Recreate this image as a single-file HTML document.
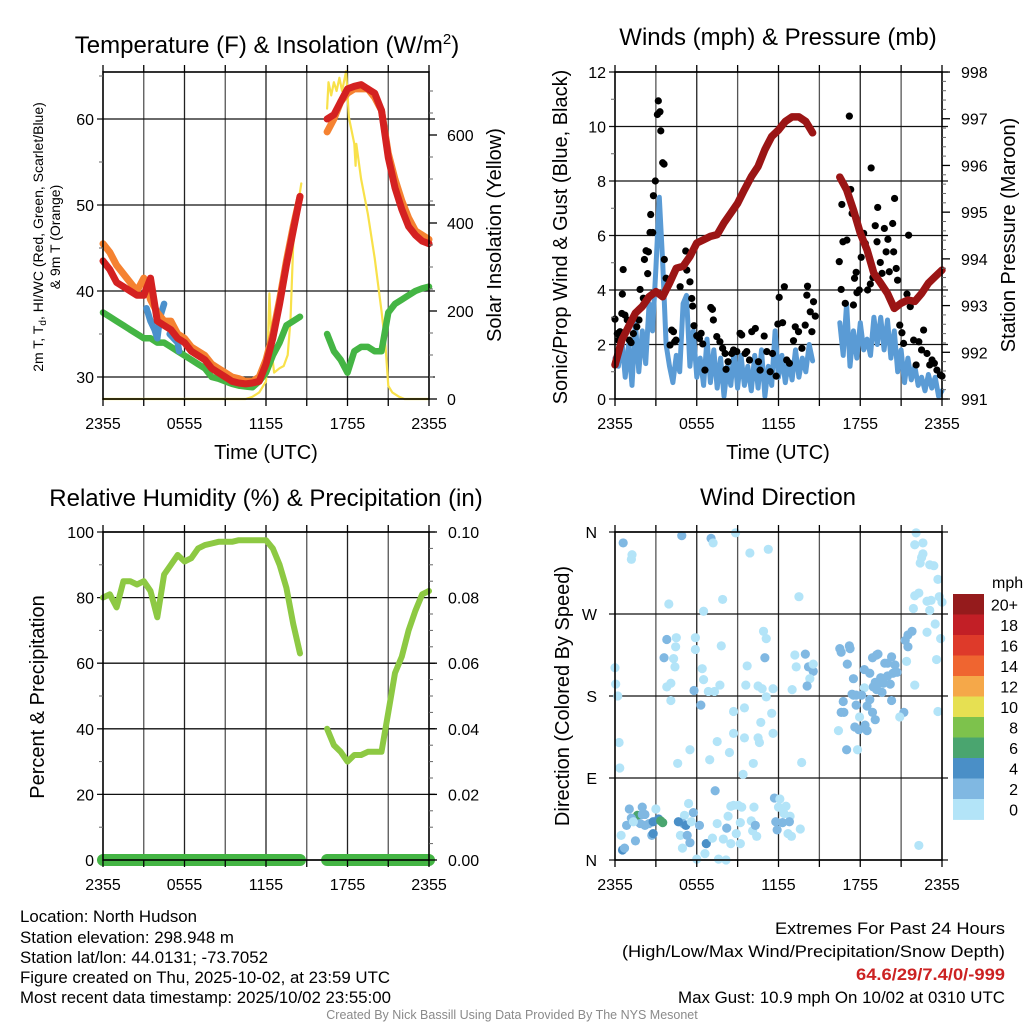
<!DOCTYPE html>
<html><head><meta charset="utf-8"><title>NYS Mesonet North Hudson</title>
<style>
html,body{margin:0;padding:0;background:#fff;}
svg{display:block;font-family:"Liberation Sans",sans-serif;}
.tk{font-size:16px;fill:#000;}
.ttl{font-size:24px;fill:#000;}
.axt{font-size:20px;fill:#000;}
.info{font-size:16.5px;fill:#000;}
</style></head>
<body>
<svg id="chart" width="1024" height="1024" viewBox="0 0 1024 1024" xmlns="http://www.w3.org/2000/svg">
<rect x="0" y="0" width="1024" height="1024" fill="#fff"/>
<g id="layer-grid"></g>
<g id="layer-data"></g>
<g id="layer-frame"></g>
<g id="layer-text"></g>

<text class="ttl" x="267" y="53" text-anchor="middle">Temperature (F) &amp; Insolation (W/m<tspan dy="-9" font-size="15">2</tspan><tspan dy="9">)</tspan></text>
<text class="ttl" x="778" y="45" text-anchor="middle">Winds (mph) &amp; Pressure (mb)</text>
<text class="ttl" x="266" y="506" text-anchor="middle">Relative Humidity (%) &amp; Precipitation (in)</text>
<text class="ttl" x="778" y="505" text-anchor="middle">Wind Direction</text>

<text class="axt" x="266" y="459" text-anchor="middle">Time (UTC)</text>
<text class="axt" x="778" y="459" text-anchor="middle">Time (UTC)</text>

<text font-size="14" transform="translate(43,237) rotate(-90)" text-anchor="middle">2m T, T<tspan font-size="10" dy="3">d</tspan><tspan dy="-3">, HI/WC (Red, Green, Scarlet/Blue)</tspan></text>
<text font-size="14" transform="translate(60,237) rotate(-90)" text-anchor="middle">&amp; 9m T (Orange)</text>
<text class="axt" font-size="21" transform="translate(501,235) rotate(-90)" text-anchor="middle">Solar Insolation (Yellow)</text>
<text class="axt" transform="translate(567,237) rotate(-90)" text-anchor="middle">Sonic/Prop Wind &amp; Gust (Blue, Black)</text>
<text class="axt" font-size="21" transform="translate(1015,235) rotate(-90)" text-anchor="middle">Station Pressure (Maroon)</text>
<text class="axt" font-size="24" transform="translate(44,697) rotate(-90)" text-anchor="middle">Percent &amp; Precipitation</text>
<text class="axt" font-size="18" transform="translate(569,696) rotate(-90)" text-anchor="middle">Direction (Colored By Speed)</text>

<text class="tk" x="992" y="588">mph</text>

<g>
<text class="info" x="20" y="922" textLength="177" lengthAdjust="spacingAndGlyphs">Location: North Hudson</text>
<text class="info" x="20" y="943" textLength="214" lengthAdjust="spacingAndGlyphs">Station elevation: 298.948 m</text>
<text class="info" x="20" y="963" textLength="248" lengthAdjust="spacingAndGlyphs">Station lat/lon: 44.0131; -73.7052</text>
<text class="info" x="20" y="983" textLength="370" lengthAdjust="spacingAndGlyphs">Figure created on Thu, 2025-10-02, at 23:59 UTC</text>
<text class="info" x="20" y="1003" textLength="371" lengthAdjust="spacingAndGlyphs">Most recent data timestamp: 2025/10/02 23:55:00</text>
</g>
<g>
<text class="info" x="775" y="934" textLength="230" lengthAdjust="spacingAndGlyphs">Extremes For Past 24 Hours</text>
<text class="info" x="622" y="957" textLength="383" lengthAdjust="spacingAndGlyphs">(High/Low/Max Wind/Precipitation/Snow Depth)</text>
<text class="info" x="856" y="980" textLength="149" lengthAdjust="spacingAndGlyphs" font-weight="bold" fill="#cc2222" style="fill:#cc2222">64.6/29/7.4/0/-999</text>
<text class="info" x="678" y="1003" textLength="327" lengthAdjust="spacingAndGlyphs">Max Gust: 10.9 mph On 10/02 at 0310 UTC</text>
</g>
<text x="512" y="1019" font-size="12.5" fill="#8a8a8a" text-anchor="middle">Created By Nick Bassill Using Data Provided By The NYS Mesonet</text>
</svg>

<script>
// ---------- data ----------
const timeTickLabels = ["2355","0555","1155","1755","2355"];
const timeTickHours = [0,6,12,18,24];
const tempTicks = [30,40,50,60];
const solarTicks = [0,200,400,600];
const windTicks = [0,2,4,6,8,10,12];
const pressureTicks = [991,992,993,994,995,996,997,998];
const rhTicks = [0,20,40,60,80,100];
const precipTickLabels = ["0.00","0.02","0.04","0.06","0.08","0.10"];
const dirTickLabels = ["N","E","S","W","N"];
const dirTickValues = [0,90,180,270,360];
const speedBinLabels = ["0","2","4","6","8","10","12","14","16","18","20+"];
const speedBinColors = ["#b3e4f8","#80b8e2","#4a8fc7","#4aa56f","#7dc24c","#e6e052","#f5a849","#ef6530","#de3a2a","#c21f26","#951b1c"];

// half-hourly series (0..24 h), null = missing
const tempRed = [43.5,42.5,41,40.5,40,39.5,39.5,41.5,36.5,36,35.5,34.5,34,33,32.5,32,31,30.5,30,29.5,29.3,29.2,29.3,29.5,31.5,34.5,38.5,43,47,51,null,null,null,60,60.5,62,63.5,63.8,64,63.5,63,61,55.5,52,49.5,47.5,46.5,45.8,45.5];
const temp9mOrange = [45.5,44.5,43,42,41,40,41.5,39,37.5,36.5,36.5,35,34.5,33.5,33,32.5,31.5,31,30.5,30,29.8,29.5,29.5,30,32,35,39,43.5,47.5,51,null,null,null,58.5,60,62,63,63.5,63.5,63.5,62.5,61,56,53,50.5,48.5,47,46.5,46];
const dewpointGreen = [37.5,37,36.5,36,35.5,35,34.5,34.5,34,34,33.5,33,32.5,32,31.5,31,30,29.8,29.5,29.2,29,28.9,28.8,29.5,30.5,32.5,34,36,36.5,37,null,null,null,35,33,32,30.5,33,33.5,33.5,33,33,37.5,38.5,39,39.5,40,40.3,40.5];
const hiwcHours = [3.2,3.5,3.8,4.0,4.2,4.5,null,4.9,5.2,5.5,5.6];
const hiwcValues = [38,36.5,35.5,34.5,37,38.5,null,35,34.5,34,33];
const solarHours = [0,10.5,11,11.5,12,12.15,12.25,12.45,12.6,13,13.3,13.6,13.8,14.0,14.3,14.6,null,16.5,16.6,16.8,17.0,17.2,17.4,17.6,17.9,18.1,18.5,18.6,18.65,19,19.5,20,20.5,20.8,21,21.3,21.8,22.2,24];
const solarValues = [0,0,5,15,40,130,240,100,60,70,75,100,180,350,430,490,null,660,720,690,720,700,730,700,745,640,580,530,580,500,420,320,200,120,30,15,5,0,0];
const pressure = [991.73,992.26,992.55,992.84,992.98,993.19,993.3,993.19,993.48,993.8,993.84,994.05,994.34,994.41,994.48,994.52,994.77,994.98,995.19,995.48,995.76,995.98,996.34,996.62,996.76,996.94,997.04,997.04,996.94,996.7,null,null,null,995.75,995.48,995.05,994.55,994.19,993.69,993.48,993.26,992.94,993.05,993.12,993.09,993.26,993.48,993.62,993.76];
const relHumidity = [80,81,77,85,85,84,85,82,74,87,90,93,91,92,95,96,96.5,97,97,97,97.5,97.5,97.5,97.5,97.5,95,90,83,72,63,null,null,null,40,35,33,30,32,32,33,33,33,45,57,62,70,76,81,82];
const precip = [0,0,0,0,0,0,0,0,0,0,0,0,0,0,0,0,0,0,0,0,0,0,0,0,0,0,0,0,0,0,null,null,null,0,0,0,0,0,0,0,0,0,0,0,0,0,0,0,0];
// quarter-hourly sonic wind
const windSpeed = [1.5,1.2,2.2,0.8,2,0.5,2.8,1,2.5,1.3,3.5,2.5,4.8,7.4,5,2,1.2,0.6,1.6,1,3.5,3.8,1.2,2.5,0.8,1.5,0.5,2.2,0.6,1.8,0.4,1.5,0.1,1.2,0.5,1.8,0.4,1.6,0.5,1.2,0.3,1.6,0.4,1.8,0.1,1.2,0.5,2.5,0.8,1.6,0.6,1.4,0.7,1.8,0.8,1.5,1,2.0,1.4,null,null,null,null,null,null,null,2.8,1.6,3.5,1.2,2.5,1.5,2.8,1.8,2.2,1.6,3.0,2.0,3.0,1.8,2.9,1.5,2.5,1.0,1.8,0.6,1.5,0.7,1.2,0.5,0.8,0.3,0.9,0.4,0.8,0.1,0.3];
const gustHours = [0,.17,.25,.37,.54,.6,.5,.73,.9,1.05,1.18,1.35,1.6,1.76,1.84,2.08,2.16,2.28,2.45,2.4,2.57,2.77,2.62,2.82,2.96,3.11,3.18,3.3,3.36,3.5,3.6,3.62,3.75,4.16,4.29,4.38,4.48,4.04,4.78,5.19,5.27,5.5,5.63,5.7,5.8,6.0,6.2,6.32,6.44,6.6,7.03,7.15,7.22,7.47,7.7,7.9,8.08,8.15,8.3,8.57,8.7,8.94,9.18,9.3,9.55,9.67,9.87,10.04,10.3,10.53,10.65,10.95,11.14,11.39,11.56,11.83,11.95,12.05,12.3,12.43,12.6,12.8,13.1,13.23,13.47,13.72,13.96,14.08,14.13,14.33,14.45,14.57,14.7,16.46,16.65,16.6,16.73,16.9,17.02,17.2,17.3,17.4,17.5,17.58,17.7,17.76,17.93,18.07,18.25,18.37,18.54,18.74,18.8,18.93,19.1,19.28,19.23,19.47,19.6,19.77,19.9,20.03,20.13,20.38,20.45,20.52,20.64,20.74,20.9,21.06,21.18,21.43,21.55,21.67,21.92,22.1,22.3,22.5,22.65,22.9,23.1,23.27,23.44,23.63,23.88,24];
const gustValues = [2.93,2.4,2.16,2.47,3.85,4.75,3.14,3.08,2.9,2.16,2.07,2.4,2.65,2.9,4.02,3.7,5.12,5.44,5.4,4.6,6.11,6.11,6.77,7.46,8.0,10.44,10.94,10.54,9.84,8.67,8.62,5.12,4.43,2.53,2.47,2.1,2.16,1.98,4.12,5.43,4.73,4.3,3.69,3.41,2.69,2.32,2.22,2.41,2.02,1.06,3.36,3.29,2.9,2.29,2.1,1.86,1.67,1.09,1.37,1.67,1.8,1.74,2.41,2.35,1.67,1.74,1.43,2.47,2.59,1.37,1.06,2.31,1.74,1.0,1.67,0.84,2.75,3.73,2.8,4.12,1.43,1.31,2.14,2.65,2.47,1.86,2.71,3.81,4.14,3.2,2.47,3.57,3.04,5.04,7.14,4.02,5.77,3.51,5.83,10.38,7.69,6.81,3.45,4.43,4.65,3.9,4.0,5.2,6.08,5.71,4.0,4.22,8.48,4.46,6.36,7.03,5.77,5.01,4.61,6.26,5.4,5.86,4.67,6.44,5.4,7.36,4.79,4.36,2.71,2.43,2.04,3.85,6.01,3.39,2.16,1.25,2.1,1.8,2.53,1.67,1.25,1.43,1.31,1.06,0.88,0.84];
const dirHours = [0.6,1.25,1.2,4.9,7.05,7.2,8.85,9.9,11.25,3.95,7.9,6.5,13.5,22.1,22.0,22.6,22.6,22.5,22.4,23.1,23.4,23.7,22.0,22.3,21.9,22.9,23.2,23.1,23.8,24.0,23.5,22.9,23.9,21.8,21.5,21.5,21.4,23.6,22.0,21.2,20.9,23.7,22.3,3.8,4.5,4.45,3.6,4.3,4.4,4.1,3.8,4.1,5.9,5.9,6.4,6.5,5.8,6.3,6.85,7.3,7.7,7.8,9.7,9.6,10.9,11.1,11.0,10.5,10.8,11.1,11.6,11.5,10.7,9.5,8.7,8.7,9.5,10.5,10.6,7.5,8.4,6.95,5.5,4.6,10.15,9.4,13.7,11.6,13.0,13.2,13.97,13.3,14.2,14.4,14.55,14.3,14.1,14.55,0,0.05,0.2,0.3,0.35,16.5,16.6,17.2,17.25,17.05,17.5,18.3,18.7,18.9,19.2,19.3,19.8,20.0,20.3,20.55,20.7,20.4,20.0,19.5,19.7,19.45,19.1,18.95,19.2,19.6,20.2,18.3,18.1,17.5,17.4,17.7,18.7,18.5,16.75,16.8,16.6,17.7,17.95,18.9,19.1,18.35,18.5,17.6,17.9,16.4,17.0,17.8,20.3,21.3,1.05,2.0,3.0,1.65,2.0,2.2,1.85,2.2,2.5,2.8,3.2,3.35,3.5,0.85,1.2,1.35,0.45,1.5,2.7,2.8,0.55,0.7,5.4,5.1,5.75,5.0,5.2,4.65,5.6,6.2,4.8,5.3,5.5,4.95,6.7,6.6,6.0,7.6,8.15,7.95,7.15,7.5,7.35,8.2,8.3,8.5,8.7,9.05,9.3,8.9,9.2,8.5,9.2,10.0,10.1,10.3,10.4,10.2,11.7,12.1,12.0,12.55,12.4,12.85,12.3,12.8,11.8,11.9,12.7,12.95,13.6];
const dirDegrees = [348,335,330,356,353,348,359,337,341,281,286,273,289,359,346,348,336,332,326,324,323,308,290,293,276,284,285,274,289,283,259,250,243,251,247,234,218,220,192,162,157,163,16,242,244,234,222,221,212,194,190,175,244,231,210,198,186,170,185,185,192,235,213,192,251,243,222,191,188,179,188,161,151,167,163,139,134,134,129,130,118,110,121,106,106,94,107,139,187,225,226,212,212,212,207,199,191,215,211,193,180,129,101,232,228,235,232,215,199,209,205,222,225,226,216,216,223,214,206,205,202,200,194,194,195,190,187,184,193,189,181,181,182,181,176,169,174,162,162,170,157,162,154,148,142,146,143,142,121,121,175,241,56,58,56,49,50,50,40,38,40,42,45,43,41,38,46,42,27,21,27,29,11,13,62,49,52,40,38,42,42,38,27,27,19,13,18,7,1,1,0,23,24,40,76,35,48,59,60,60,58,29,18,18,41,43,32,38,26,58,68,67,58,59,51,48,41,42,42,33,29,26,34];
const dirSpeeds = [3,1,1,3,3,1,1,1,1,1,1,1,1,1,1,1,1,1,1,1,1,1,1,1,1,1,1,1,1,1,1,1,1,3,3,3,1,1,1,3,1,1,1,3,1,1,3,1,1,1,1,1,1,1,1,1,3,3,1,1,1,1,1,1,1,1,3,1,1,1,1,1,1,1,1,1,1,1,1,1,1,1,1,1,1,1,1,1,1,1,3,1,3,3,3,1,3,1,1,1,1,1,1,3,3,3,3,3,3,3,3,3,3,3,3,3,3,3,3,3,3,3,3,3,3,3,3,3,3,1,3,3,3,3,3,3,3,3,3,3,1,3,3,3,3,3,3,1,3,1,3,3,3,3,1,7,3,3,3,3,3,5,5,7,7,3,3,1,1,3,3,5,5,3,1,1,3,3,5,5,1,3,1,3,3,1,5,1,1,1,1,1,1,1,3,3,1,1,1,1,1,1,1,1,1,1,1,3,1,1,3,1,1,1,1,1,3,3,3,3,1,1,1,1,1,1,1,1];

// ---------- helpers ----------
const NS = "http://www.w3.org/2000/svg";
const gGrid = document.getElementById('layer-grid');
const gData = document.getElementById('layer-data');
const gFrame = document.getElementById('layer-frame');
const gText = document.getElementById('layer-text');
function mk(tag, a, p){ const e=document.createElementNS(NS,tag); for(const k in a) e.setAttribute(k,a[k]); p.appendChild(e); return e; }

const P1={l:103,r:429,t:72,b:399}, P2={l:615,r:942,t:72,b:399}, P3={l:103,r:429,t:532,b:860}, P4={l:615,r:942,t:532,b:860};
const xH = (P,h) => P.l + h/24*(P.r-P.l);
const yTemp = v => 377 - (v-30)*8.6;
const ySolar = v => 399 - v*0.44;
const yWind = v => 399 - v*27.25;
const yPres = v => 399 - (v-991)*46.71;
const yRH = v => 860 - v*3.28;
const yDir = v => 860 - v*328/360;

function pathFrom(xs, ys){
  let d="", pen=false;
  for(let i=0;i<xs.length;i++){
    if(xs[i]===null || ys[i]===null){ pen=false; continue; }
    d += (pen?"L":"M") + xs[i].toFixed(1) + " " + ys[i].toFixed(1) + " ";
    pen=true;
  }
  return d;
}
function stepSeries(P, arr, step, yf){
  const xs = arr.map((v,i)=> v===null?null:xH(P,i*step));
  const ys = arr.map(v=> v===null?null:yf(v));
  return pathFrom(xs, ys);
}
function pairSeries(P, hrs, vals, yf){
  const xs = hrs.map(h=> h===null?null:xH(P,h));
  const ys = vals.map(v=> v===null?null:yf(v));
  return pathFrom(xs, ys);
}

// ---------- grids, frames, time axes ----------
function gridAndFrame(P, name, hLines){
  for(let k=1;k<8;k++){
    const x = xH(P, k*3);
    const ln = mk('line',{x1:x,y1:P.t,x2:x,y2:P.b,stroke:(k%2?'#555':'#222'),'stroke-width':1.3},gGrid);
    
    
  }
  hLines.forEach(y=>{
    const ln = mk('line',{x1:P.l-6,y1:y,x2:P.r+6,y2:y,stroke:'#111','stroke-width':1.3},gGrid);
    
    
  });
  const fr = mk('rect',{x:P.l,y:P.t,width:P.r-P.l,height:P.b-P.t,fill:'none',stroke:'#000','stroke-width':1.6},gFrame);
  
  
  for(let k=0;k<=8;k++){
    const x = xH(P,k*3);
    const t = mk('line',{x1:x,y1:P.b,x2:x,y2:P.b+7,stroke:'#000','stroke-width':1.3},gFrame);
    
    
    const t2 = mk('line',{x1:x,y1:P.t,x2:x,y2:P.t-7,stroke:'#000','stroke-width':1.3},gFrame);
    
    
  }
  timeTickHours.forEach((h,i)=>{
    const tx = mk('text',{x:xH(P,h),y:P.b+30,'text-anchor':'middle','class':'tk'},gText);
    tx.textContent = timeTickLabels[i];
    
    
  });
}
function leftLabels(P, vals, labels, yf, name, xRight){
  vals.forEach((v,i)=>{
    const tx = mk('text',{x:xRight,y:yf(v)+6,'text-anchor':'end','class':'tk'},gText);
    tx.textContent = labels[i];
    
    
  });
}
function rightLabels(P, vals, labels, yf, name, xLeft, tickLen){
  vals.forEach((v,i)=>{
    const y=yf(v);
    const t = mk('line',{x1:P.r,y1:y,x2:P.r+tickLen,y2:y,stroke:'#000','stroke-width':1.3},gFrame);
    
    
    const tx = mk('text',{x:xLeft,y:y+6,'class':'tk'},gText);
    tx.textContent = labels[i];
    
    
  });
}
function minorTicks(x, dir, ys, name){
  ys.forEach(y=>{
    const t = mk('line',{x1:x,y1:y,x2:x+dir*4,y2:y,stroke:'#666','stroke-width':1},gFrame);
    
    
  });
}

// Panel 1
gridAndFrame(P1,'temperature-chart',tempTicks.map(yTemp));
leftLabels(P1,tempTicks,tempTicks.map(String),yTemp,'temperature-y-axis',94);
rightLabels(P1,solarTicks,solarTicks.map(String),ySolar,'solar-y-axis',447,8);
minorTicks(P1.l,-1,[35,45,55,65].map(yTemp),'temperature-y-axis');
minorTicks(P1.r,1,[50,100,150,250,300,350,450,500,550,650,700].map(ySolar),'solar-y-axis');
// Panel 2
gridAndFrame(P2,'winds-chart',windTicks.map(yWind));
leftLabels(P2,windTicks,windTicks.map(String),yWind,'wind-y-axis',606);
rightLabels(P2,pressureTicks,pressureTicks.map(String),yPres,'pressure-y-axis',961,8);
minorTicks(P2.l,-1,[1,3,5,7,9,11].map(yWind),'wind-y-axis');
{ const m=[]; for(let p=991.2;p<998;p+=0.2){ if(Math.abs(p-Math.round(p))>0.05) m.push(yPres(p)); } minorTicks(P2.r,1,m,'pressure-y-axis'); }
// Panel 3
gridAndFrame(P3,'humidity-chart',rhTicks.map(yRH));
leftLabels(P3,rhTicks,rhTicks.map(String),yRH,'humidity-y-axis',94);
rightLabels(P3,rhTicks,precipTickLabels,yRH,'precip-y-axis',448,8);
minorTicks(P3.l,-1,[10,30,50,70,90].map(yRH),'humidity-y-axis');
{ const m=[]; for(let v=5;v<100;v+=5){ if(v%20) m.push(yRH(v)); } minorTicks(P3.r,1,m,'precip-y-axis'); }
// Panel 4
gridAndFrame(P4,'wind-direction-chart',dirTickValues.map(yDir));
leftLabels(P4,dirTickValues,dirTickLabels,yDir,'direction-y-axis',597);

// ---------- series ----------
function addPath(d, color, w, name, opacity){
  const p = mk('path',{d:d,fill:'none',stroke:color,'stroke-width':w,'stroke-linejoin':'round','stroke-linecap':'round','opacity':opacity||1},gData);
  return p;
}
let s;
s = addPath(pairSeries(P1,solarHours,solarValues,ySolar),'#f8e14a',2.2);


s = addPath(stepSeries(P1,dewpointGreen,0.5,yTemp),'#44b544',6.5);


s = addPath(pairSeries(P1,hiwcHours,hiwcValues,yTemp),'#4a90cc',6.5);


s = addPath(stepSeries(P1,temp9mOrange,0.5,yTemp),'#f58231',7);


s = addPath(stepSeries(P1,tempRed,0.5,yTemp),'#d42121',7);



s = addPath(stepSeries(P2,windSpeed,0.25,yWind),'#5a9bd5',5);


gustHours.forEach((h,i)=>{
  const c = mk('circle',{cx:xH(P2,h),cy:yWind(gustValues[i]),r:3.6,fill:'#000'},gData);
  
  
});
s = addPath(stepSeries(P2,pressure,0.5,yPres),'#9b1515',7.5);



s = addPath(stepSeries(P3,precip,0.5,yRH),'#44b544',12);


s = addPath(stepSeries(P3,relHumidity,0.5,yRH),'#8dc943',6);



function speedColor(v){ let k=Math.floor(v/2); if(k>10)k=10; if(k<0)k=0; return speedBinColors[k]; }
dirHours.forEach((h,i)=>{
  const c = mk('circle',{cx:xH(P4,h),cy:yDir(dirDegrees[i]),r:4.6,fill:speedColor(dirSpeeds[i])},gData);
  
  
});

const cbTop=594, cbBox=20.5;
speedBinLabels.forEach((lab,i)=>{
  const k = speedBinLabels.length-1-i;
  const y = cbTop + i*cbBox;
  const r = mk('rect',{x:953,y:y,width:31,height:cbBox+0.4,fill:speedBinColors[k]},gData);
  
  
  const tx = mk('text',{x:1018,y:y+cbBox/2+6,'text-anchor':'end','class':'tk'},gText);
  tx.textContent = speedBinLabels[k];
  
  
});
</script>
</body></html>
